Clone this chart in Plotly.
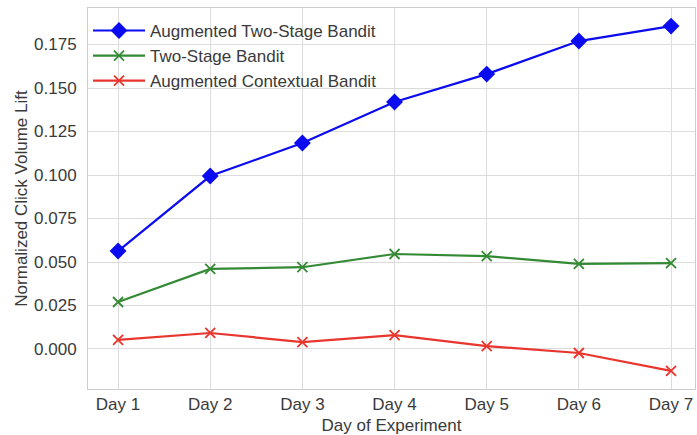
import plotly.graph_objects as go

days = ["Day 1", "Day 2", "Day 3", "Day 4", "Day 5", "Day 6", "Day 7"]
aug_two_stage = [0.0563, 0.0994, 0.1184, 0.1420, 0.1580, 0.1770, 0.1856]
two_stage = [0.0270, 0.0460, 0.0470, 0.0546, 0.0534, 0.0489, 0.0494]
aug_contextual = [0.0052, 0.0092, 0.0040, 0.0080, 0.0017, -0.0023, -0.0126]
y_ticks = [0.0, 0.025, 0.05, 0.075, 0.1, 0.125, 0.15, 0.175]

font = "Liberation Sans, Arial, sans-serif"
fig = go.Figure()
fig.add_trace(go.Scatter(
    x=days, y=aug_two_stage, name="Augmented Two-Stage Bandit",
    mode="lines+markers", legendgroup="a",
    line=dict(color="#0b0bf0", width=2.2),
    marker=dict(symbol="diamond", size=13, color="#0b0bf0")))
fig.add_trace(go.Scatter(
    x=days, y=two_stage, name="Two-Stage Bandit",
    mode="lines+markers", legendgroup="b",
    line=dict(color="#348a34", width=2.2),
    marker=dict(symbol="x-thin", size=10, color="#348a34",
                line=dict(color="#348a34", width=1.8))))
fig.add_trace(go.Scatter(
    x=days, y=aug_contextual, name="Augmented Contextual Bandit",
    mode="lines+markers", legendgroup="c",
    line=dict(color="#e8362e", width=2.2),
    marker=dict(symbol="x-thin", size=10, color="#e8362e",
                line=dict(color="#e8362e", width=1.8))))

fig.update_layout(
    width=697, height=435,
    margin=dict(l=88, r=2, t=8, b=46),
    paper_bgcolor="white", plot_bgcolor="white",
    font=dict(family=font, size=17, color="#3a3a3a"),
    legend=dict(x=0.0, y=0.987, xanchor="left", yanchor="top",
                bgcolor="rgba(0,0,0,0)", traceorder="grouped",
                itemwidth=52,
                tracegroupgap=0, font=dict(size=17, color="#3a3a3a")),
    showlegend=True,
)
fig.update_xaxes(
    type="category", range=[-0.326, 6.26], automargin=False,
    showgrid=True, gridcolor="#dcdcdc", gridwidth=1,
    showline=True, linecolor="#cccccc", mirror=True,
    ticks="", ticklabelstandoff=0,
    title=dict(text="Day of Experiment", standoff=5, font=dict(size=17)),
    tickfont=dict(size=17))
fig.update_yaxes(
    range=[-0.023, 0.196], tickvals=y_ticks, automargin=False,
    ticktext=[f"{v:.3f}" for v in y_ticks],
    showgrid=True, gridcolor="#dcdcdc", gridwidth=1, zeroline=False,
    showline=True, linecolor="#cccccc", mirror=True,
    ticks="", ticklabelstandoff=7,
    title=dict(text="Normalized Click Volume Lift", standoff=2, font=dict(size=17)),
    tickfont=dict(size=17))

fig.write_html("out.html", config={"displayModeBar": False},
               post_script="document.body.style.margin='0';document.body.style.overflow='hidden';")
